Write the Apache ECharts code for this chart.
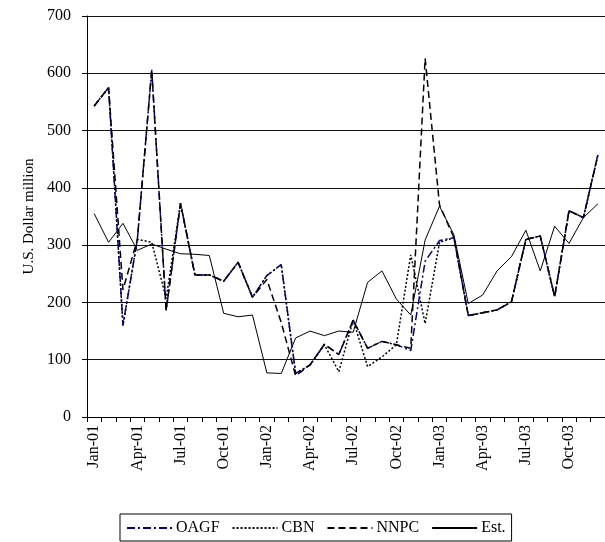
<!DOCTYPE html>
<html>
<head>
<meta charset="utf-8">
<script src="https://cdn.jsdelivr.net/npm/echarts@6/dist/echarts.min.js"></script>
<style>
html,body{margin:0;padding:0;background:#fff;}
#c{width:605px;height:542px;}
</style>
</head>
<body>
<div id="c"></div>
<script>
var months = ['Jan-01','Feb-01','Mar-01','Apr-01','May-01','Jun-01','Jul-01','Aug-01','Sep-01','Oct-01','Nov-01','Dec-01',
              'Jan-02','Feb-02','Mar-02','Apr-02','May-02','Jun-02','Jul-02','Aug-02','Sep-02','Oct-02','Nov-02','Dec-02',
              'Jan-03','Feb-03','Mar-03','Apr-03','May-03','Jun-03','Jul-03','Aug-03','Sep-03','Oct-03','Nov-03','Dec-03'];
var oagf = [543,575,160,310,606,186,373,248,248,237,270,209,247,266,76,91,127,109,169,120,132,126,116,272,308,313,177,182,187,201,310,316,210,360,348,457];
var cbn  = [543,575,160,310,305,207,373,248,248,237,270,209,247,266,76,91,126,79,169,88,105,126,283,163,305,313,177,182,187,201,310,316,210,360,348,457];
var nnpc = [543,575,222,310,606,186,373,248,248,237,270,209,240,165,72,91,127,109,169,120,132,126,120,626,370,313,177,182,187,201,310,316,210,360,348,457];
var est  = [355,305,338,291,302,293,285,284,282,181,175,178,77,76,138,150,142,150,148,235,255,206,178,309,368,318,198,213,255,280,326,255,333,303,348,372];
var yTicks = {min:0, max:700, interval:100};
var seriesNames = ['OAGF','CBN','NNPC','Est.'];

var serif = "'Liberation Serif','Times New Roman',serif";
var chart = echarts.init(document.getElementById('c'), null, {renderer:'canvas'});
function mk(name, data, color, type, width, z){
  return {name:name, type:'line', data:data, symbol:'none', showSymbol:false, z:z,
          lineStyle:{color:color, type:type, width:width},
          itemStyle:{color:color, opacity:0},
          animation:false};
}
chart.setOption({
  animation:false,
  backgroundColor:'#fff',
  grid:{left:87, top:16, width:522, height:401, containLabel:false},
  xAxis:{
    type:'category', data:months, boundaryGap:true,
    axisLine:{lineStyle:{color:'#000', width:1}},
    axisTick:{show:true, interval:0, length:5, inside:false, lineStyle:{color:'#000'}},
    axisLabel:{interval:2, rotate:90, color:'#000', fontFamily:serif, fontSize:16, margin:8},
    splitLine:{show:false}
  },
  yAxis:{
    type:'value', min:yTicks.min, max:yTicks.max, interval:yTicks.interval,
    name:'U.S. Dollar million', nameLocation:'middle', nameGap:50, nameRotate:90,
    nameTextStyle:{color:'#000', fontFamily:serif, fontSize:15},
    axisLine:{show:true, lineStyle:{color:'#000', width:1}},
    axisTick:{show:true, length:5, lineStyle:{color:'#000'}},
    axisLabel:{color:'#000', fontFamily:serif, fontSize:16, margin:16},
    splitLine:{show:true, lineStyle:{color:'#111', width:1}}
  },
  legend:{
    data:seriesNames, left:120, top:514, orient:'horizontal',
    itemWidth:45, itemHeight:10, itemGap:12,
    borderColor:'#000', borderWidth:1, padding:[6,6,5,6],
    itemStyle:{opacity:0},
    textStyle:{color:'#000', fontFamily:serif, fontSize:16, padding:[0,0,0,-1]}
  },
  series:[
    mk('OAGF', oagf, '#000080', [8,3,2,3], 1.5, 4),
    mk('CBN', cbn, '#000', [2,2], 1.5, 3),
    mk('NNPC', nnpc, '#000', [7,4], 1.5, 5),
    mk('Est.', est, '#000', 'solid', 1, 2)
  ]
});
</script>
</body>
</html>
